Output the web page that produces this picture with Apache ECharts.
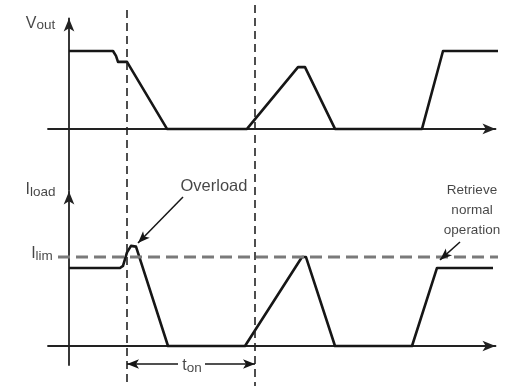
<!DOCTYPE html>
<html style="height: 100%">
<head>
<meta charset="utf-8">
</head>
<body style="height: 100%; width: 100%; margin: 0; background: #fff">
<div id="container" style="width: 522px; height: 386px;"></div>
<script src="https://cdn.jsdelivr.net/npm/echarts@6/dist/echarts.min.js"></script>
<script>
// corners of the two waveforms (time in arbitrary units)
var voutTime = [0, 4.4, 4.7, 4.9, 5.8, 9.8, 17.8, 22.9, 23.6, 26.6, 35.3, 37.4, 43.3];
var voutLevel = [3.0, 3.0, 2.81, 2.58, 2.58, 0, 0, 2.38, 2.38, 0, 0, 3.0, 3.0];
var iloadTime = [0, 5.1, 5.4, 5.8, 6.2, 6.7, 9.9, 17.6, 23.3, 23.7, 26.6, 34.3, 36.8, 42.4];
var iloadLevel = [3.0, 3.0, 3.08, 3.6, 3.85, 3.82, 0, 0, 3.42, 3.42, 0, 0, 3.0, 3.0];
var ilim = 3.42;
var markTimes = [5.8, 18.6]; // overload start / end of t_on
var tonLevel = -0.69;

function pairs(xs, ys) {
	var out = [];
	for (var i = 0; i < xs.length; i++) out.push([xs[i], ys[i]]);
	return out;
}

var ink = '#161616';
var font = 'Liberation Sans';

var subRich = {
	b: { fontSize: 16, lineHeight: 18, color: ink, fontFamily: font },
	s: { fontSize: 13.5, lineHeight: 14, color: ink, fontFamily: font, verticalAlign: 'bottom' }
};

function note(x, y, text, size, rich) {
	return {
		value: [x, y],
		label: { show: true, position: 'inside', formatter: text, rich: rich, color: ink, fontFamily: font, fontSize: size, lineHeight: 20, align: 'center' }
	};
}

var axisLine = function (arrow) {
	return { show: true, onZero: true, symbol: ['none', arrow ? 'arrow' : 'none'], symbolSize: [8, 13], lineStyle: { color: '#222', width: 1.8 } };
};
var bare = { axisTick: { show: false }, axisLabel: { show: false }, splitLine: { show: false } };

var dom = document.getElementById('container');
var myChart = echarts.init(dom);

var option = {
	animation: false,
	backgroundColor: '#fff',
	grid: [
		{ left: 48, width: 447.5, top: 18.5, height: 171.5 },
		{ left: 48, width: 447.5, top: 191.5, height: 173.5 }
	],
	xAxis: [
		Object.assign({ gridIndex: 0, type: 'value', min: -2.1, max: 42.65, axisLine: axisLine(true) }, bare),
		Object.assign({ gridIndex: 1, type: 'value', min: -2.1, max: 42.65, axisLine: axisLine(true) }, bare)
	],
	yAxis: [
		Object.assign({ gridIndex: 0, type: 'value', min: -2.35, max: 4.25, axisLine: axisLine(true) }, bare),
		Object.assign({ gridIndex: 1, type: 'value', min: -0.73, max: 5.94, axisLine: axisLine(true) }, bare)
	],
	series: [
		{
			name: 'Vout', type: 'line', xAxisIndex: 0, yAxisIndex: 0, clip: false, symbol: 'none',
			lineStyle: { color: ink, width: 2.6, join: 'round' },
			data: pairs(voutTime, voutLevel)
		},
		{
			name: 'Iload', type: 'line', xAxisIndex: 1, yAxisIndex: 1, clip: false, symbol: 'none',
			lineStyle: { color: ink, width: 2.6, join: 'round' },
			data: pairs(iloadTime, iloadLevel),
			markLine: {
				silent: true, animation: false,
				lineStyle: { color: ink, width: 1.5, type: 'solid' },
				label: { show: false },
				data: [
					[
						{ coord: [markTimes[0], tonLevel], symbol: 'arrow', symbolSize: [7, 12] },
						{ coord: [10.9, tonLevel], symbol: 'none' }
					],
					[
						{ coord: [13.6, tonLevel], symbol: 'none' },
						{ coord: [markTimes[1], tonLevel], symbol: 'arrow', symbolSize: [7, 12] }
					],
					[
						{ coord: [11.4, 5.73], symbol: 'none' },
						{ coord: [6.9, 3.96], symbol: 'arrow', symbolSize: [7, 12] }
					],
					[
						{ coord: [39.1, 4.0], symbol: 'none' },
						{ coord: [37.1, 3.31], symbol: 'arrow', symbolSize: [7, 12] }
					]
				]
			}
		},
		{
			name: 'Ilim', type: 'line', xAxisIndex: 1, yAxisIndex: 1, clip: false, symbol: 'none',
			lineStyle: { color: '#7a7a7a', width: 3, type: [12, 6] },
			data: [[-1.1, ilim], [43.3, ilim]]
		},
		{
			name: 'mark0', type: 'line', xAxisIndex: 0, yAxisIndex: 0, clip: false, symbol: 'none',
			lineStyle: { color: '#222', width: 1.6, type: [8, 5] },
			data: [[markTimes[0], 4.58], [markTimes[0], -9.9]]
		},
		{
			name: 'mark1', type: 'line', xAxisIndex: 0, yAxisIndex: 0, clip: false, symbol: 'none',
			lineStyle: { color: '#222', width: 1.6, type: [8, 5] },
			data: [[markTimes[1], 4.77], [markTimes[1], -9.9]]
		},
		{
			name: 'notesTop', type: 'scatter', xAxisIndex: 0, yAxisIndex: 0, clip: false, symbolSize: 0,
			data: [note(-2.85, 4.05, '{b|V}{s|out}', 16, subRich)]
		},
		{
			name: 'notesBottom', type: 'scatter', xAxisIndex: 1, yAxisIndex: 1, clip: false, symbolSize: 0,
			data: [
				note(-2.85, 6.0, '{b|I}{s|load}', 16, subRich),
				note(-2.7, 3.54, '{b|I}{s|lim}', 16, subRich),
				note(12.3, -0.77, '{b|t}{s|on}', 16, subRich),
				note(14.5, 6.15, 'Overload', 16.5),
				note(40.3, 5.23, 'Retrieve\nnormal\noperation', 13.5)
			]
		}
	]
};

myChart.setOption(option);
</script>
</body>
</html>
